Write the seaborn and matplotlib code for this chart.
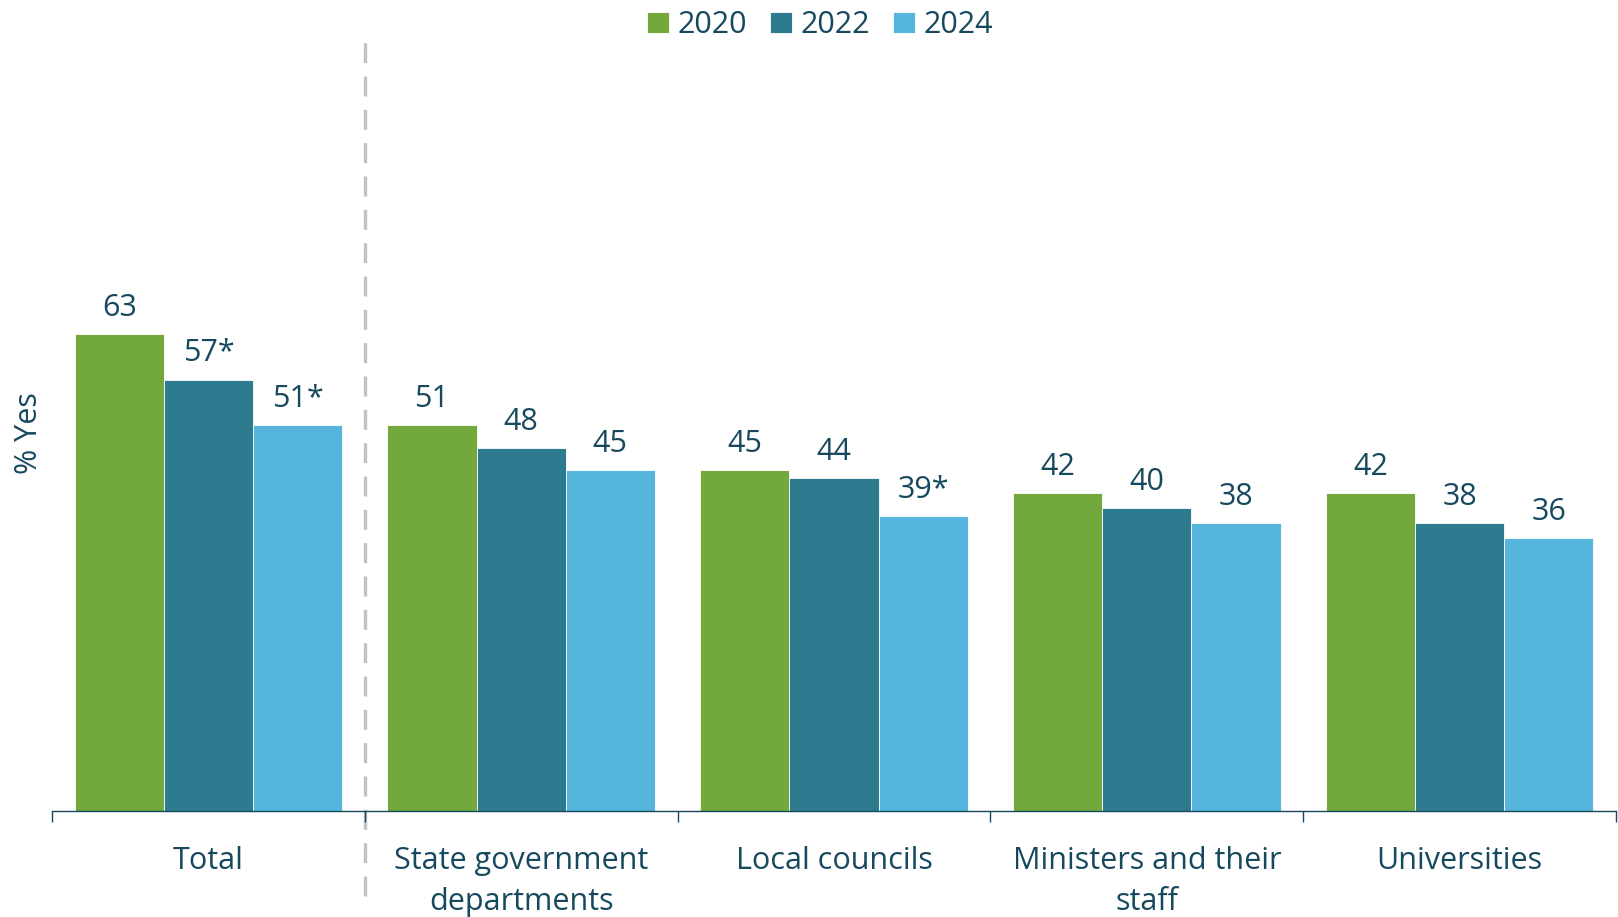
import matplotlib
matplotlib.use("Agg")
import matplotlib.pyplot as plt
import seaborn as sns
import pandas as pd
import numpy as np

categories = ["Total", "State government\ndepartments", "Local councils",
              "Ministers and their\nstaff", "Universities"]
years = ["2020", "2022", "2024"]
vals_2020 = [63, 51, 45, 42, 42]
vals_2022 = [57, 48, 44, 40, 38]
vals_2024 = [51, 45, 39, 38, 36]
sig_2020 = [False, False, False, False, False]
sig_2022 = [True, False, False, False, False]
sig_2024 = [True, False, True, False, False]
colors = ["#72A83C", "#2E7B8F", "#55B5DD"]
text_color = "#17495E"
FS = 22

sns.set_theme(style="white")
plt.rcParams["font.family"] = ["Open Sans", "DejaVu Sans"]

rows = []
for y, vals in zip(years, [vals_2020, vals_2022, vals_2024]):
    for c, v in zip(categories, vals):
        rows.append({"category": c, "year": y, "value": v})
df = pd.DataFrame(rows)

W, H = 1618, 917
fig = plt.figure(figsize=(W / 100, H / 100), dpi=100)
ax_left, ax_right = 52 / W, 1616 / W
ax_bottom, ax_top = 1 - 811 / H, 1 - 41 / H
ax = fig.add_axes([ax_left, ax_bottom, ax_right - ax_left, ax_top - ax_bottom])

sns.barplot(data=df, x="category", y="value", hue="year", order=categories,
            hue_order=years, palette=colors, saturation=1, width=0.855,
            edgecolor="white", linewidth=0.6, ax=ax, legend=True)

scale_px = 7.57
ax.set_ylim(0, 770 / scale_px)
ax.set_xlim(-0.5, len(categories) - 0.5)

for cont, vals, sigs in zip(ax.containers, [vals_2020, vals_2022, vals_2024],
                            [sig_2020, sig_2022, sig_2024]):
    labels = [f"{v}*" if s else f"{v}" for v, s in zip(vals, sigs)]
    ax.bar_label(cont, labels=labels, padding=8, fontsize=FS, color=text_color)

# axes styling
for s in ["top", "right", "left"]:
    ax.spines[s].set_visible(False)
ax.spines["bottom"].set_color(text_color)
ax.spines["bottom"].set_linewidth(1.0)
ax.set_yticks([])
ax.set_ylabel("")
ax.set_xlabel("")

ax.set_xticks(np.arange(-0.5, len(categories)), minor=False)
ax.set_xticklabels([], minor=False)
ax.set_xticks(np.arange(len(categories)), minor=True)
ax.set_xticklabels(categories, minor=True, fontsize=FS, color=text_color,
                   linespacing=1.5, va="top")
ax.tick_params(axis="x", which="major", length=8, width=1.0, color=text_color,
               direction="out", bottom=True)
ax.tick_params(axis="x", which="minor", length=0, pad=25)

# dashed separator
ax.axvline(0.5, ymin=-(896 - 811) / 770, ymax=1.0, color="#BFC3C7",
           linewidth=2.4, linestyle=(0, (6, 4)), clip_on=False, zorder=0)

fig.text(29 / W, 1 - 433 / H, "% Yes", rotation=90, ha="center", va="center",
         fontsize=FS, color=text_color)

handles, labs = ax.get_legend_handles_labels()
ax.legend(handles, labs, loc="center", bbox_to_anchor=(0.507, 1 - 25 / H),
          bbox_transform=fig.transFigure, ncol=3, frameon=False, fontsize=FS,
          handlelength=0.7, handleheight=0.7, handletextpad=0.3,
          columnspacing=0.75, labelcolor=text_color)

fig.savefig("out.png", dpi=100)
